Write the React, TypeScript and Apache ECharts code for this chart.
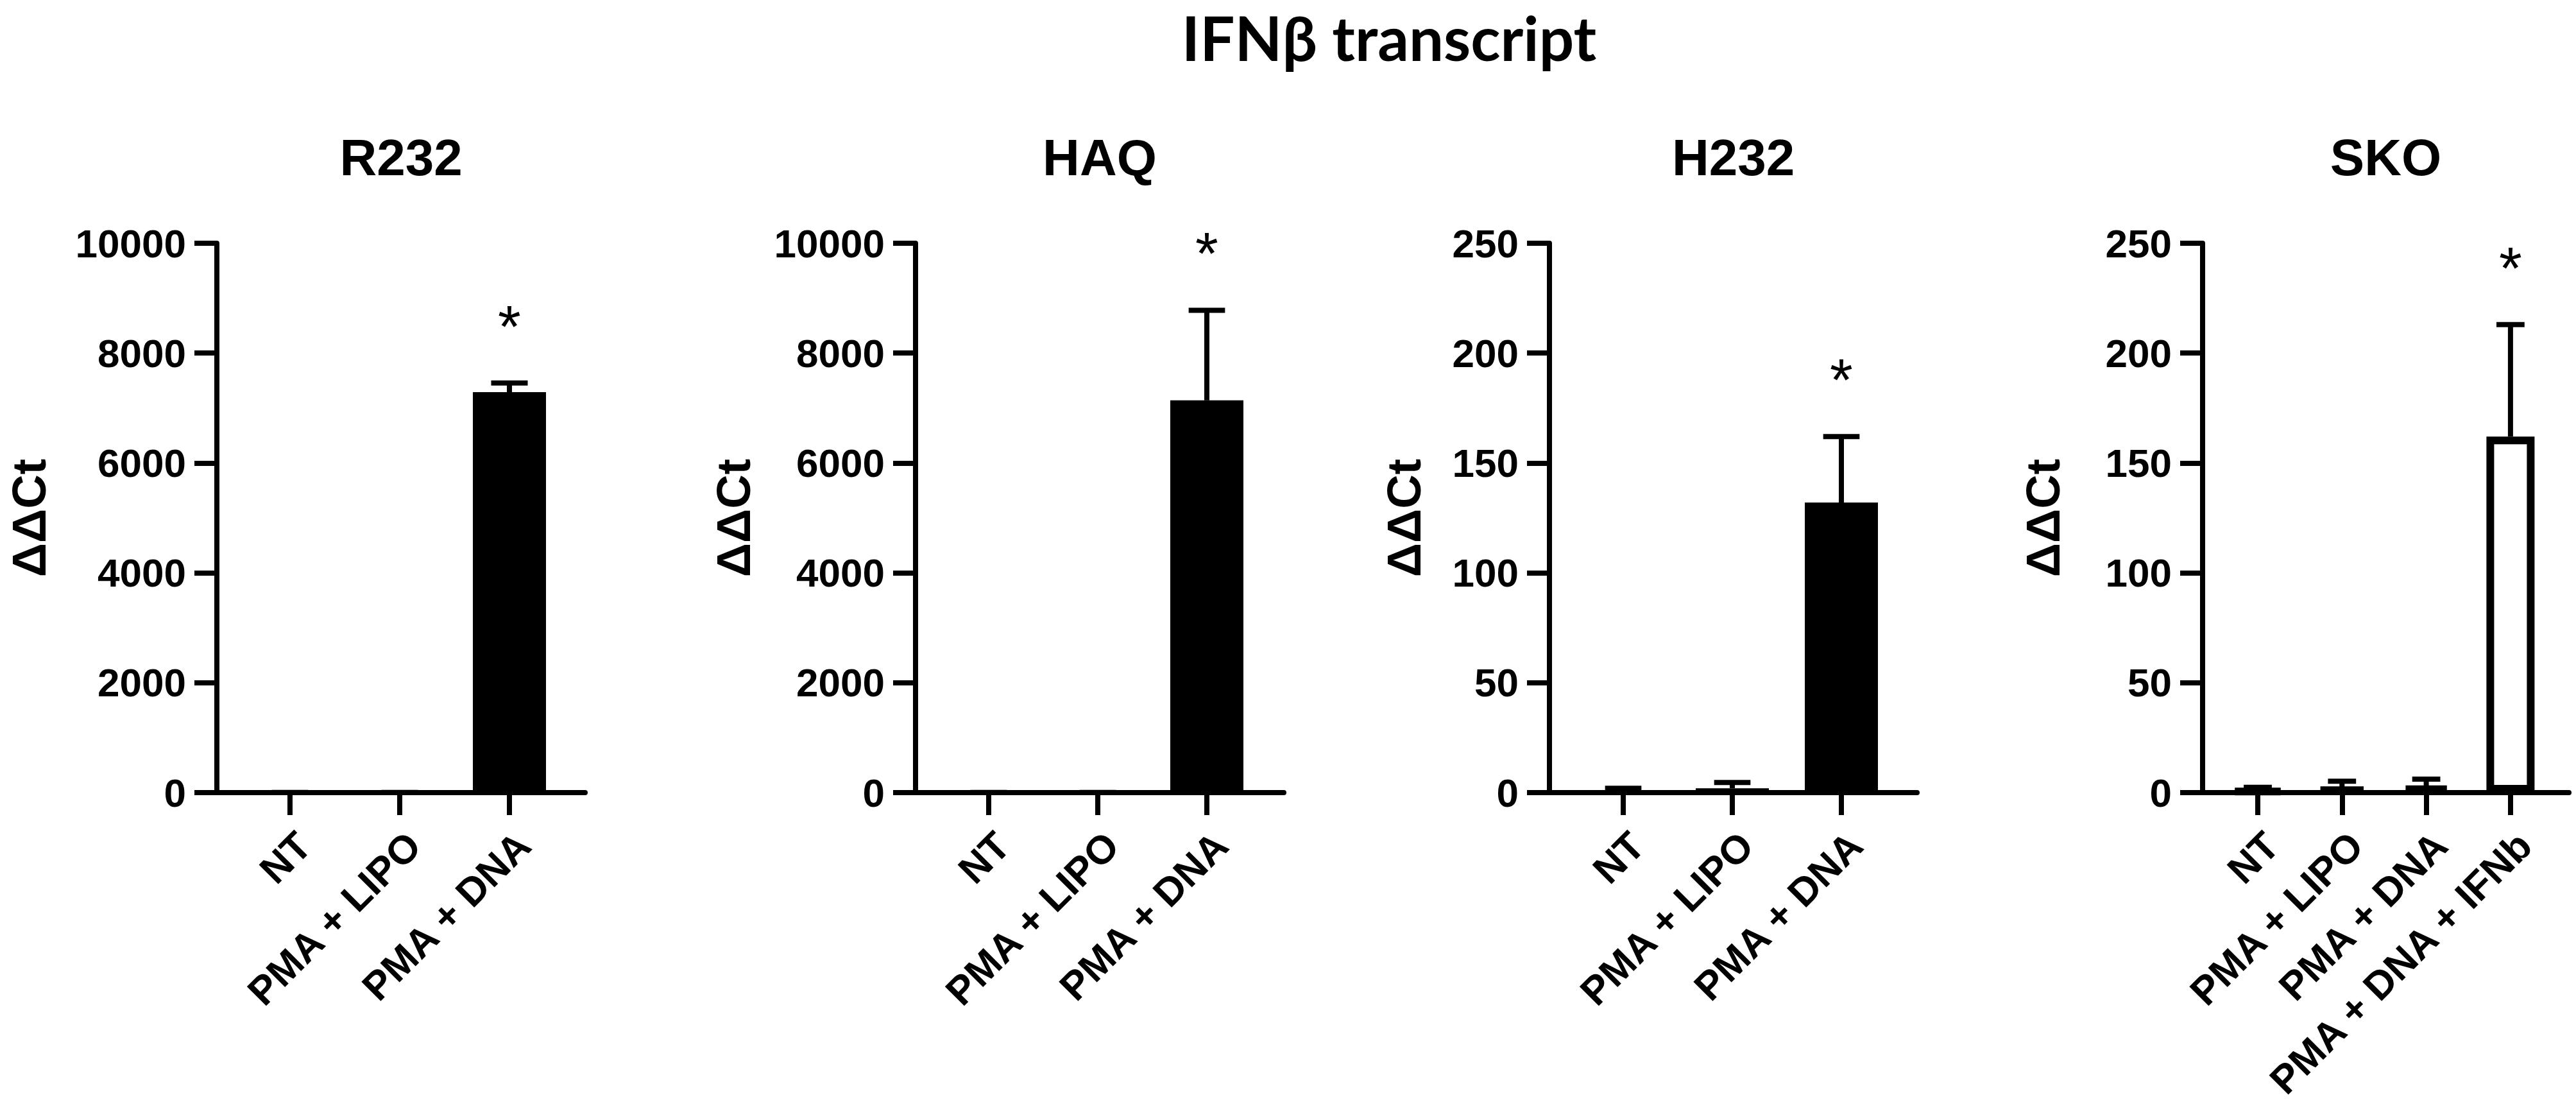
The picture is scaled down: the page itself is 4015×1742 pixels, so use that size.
import React, { useEffect, useRef } from 'react';
import * as echarts from 'echarts';

// ---------- data ----------
const mainTitle = 'IFNβ transcript';
const yName = 'ΔΔCt';

const categories3 = ['NT', 'PMA + LIPO', 'PMA + DNA'];
const categories4 = ['NT', 'PMA + LIPO', 'PMA + DNA', 'PMA + DNA + IFNb'];

const r232Mean = [1, 1, 7290];
const r232Sd = [0.5, 0.6, 165];
const r232Sig = [false, false, true];

const haqMean = [1, 1.5, 7140];
const haqSd = [0.5, 0.8, 1640];
const haqSig = [false, false, true];

const h232Mean = [1, 2, 132];
const h232Sd = [1, 2.6, 30];
const h232Sig = [false, false, true];

const skoMean = [1, 2.2, 3.1, 162];
const skoSd = [1.4, 3, 3, 51];
const skoSig = [false, false, false, true];

const yMaxBig = 10000;
const yStepBig = 2000;
const yMaxSmall = 250;
const yStepSmall = 50;

// ---------- layout / style ----------
const W = 4015;
const H = 1742;
const PLOT_TOP = 379;
const PLOT_H = 856;
const LW = 8;
const FONT = '"Liberation Sans", Arial, sans-serif';

const panels = [
  { title: 'R232', cats: categories3, mean: r232Mean, sd: r232Sd, sig: r232Sig, yMax: yMaxBig, yStep: yStepBig,
    axisX: 338, endX: 912, firstTick: 452, band: 171, nameGap: 256, fill: '#000', border: 0, barW: 114 },
  { title: 'HAQ', cats: categories3, mean: haqMean, sd: haqSd, sig: haqSig, yMax: yMaxBig, yStep: yStepBig,
    axisX: 1427, endX: 2001, firstTick: 1541, band: 170, nameGap: 247, fill: '#000', border: 0, barW: 114 },
  { title: 'H232', cats: categories3, mean: h232Mean, sd: h232Sd, sig: h232Sig, yMax: yMaxSmall, yStep: yStepSmall,
    axisX: 2415, endX: 2988, firstTick: 2530, band: 170, nameGap: 190, fill: '#000', border: 0, barW: 114 },
  { title: 'SKO', cats: categories4, mean: skoMean, sd: skoSd, sig: skoSig, yMax: yMaxSmall, yStep: yStepSmall,
    axisX: 3433, endX: 4004, firstTick: 3519, band: 131.3, nameGap: 212, fill: '#fff', border: 12, barW: 75 },
];

function buildOption() {
  const grid: any[] = [];
  const xAxis: any[] = [];
  const yAxis: any[] = [];
  const series: any[] = [];
  const graphic: any[] = [];

  graphic.push({
    type: 'text', x: 2165, y: 57,
    style: {
      text: mainTitle, font: 'bold 96px Lato, "Noto Sans", sans-serif', lineHeight: 96,
      fill: '#000', align: 'center', verticalAlign: 'middle',
    },
  });

  panels.forEach((p, i) => {
    const outer = 2 * i;
    const inner = 2 * i + 1;
    const n = p.cats.length;
    grid.push({ left: p.axisX, top: PLOT_TOP, width: p.endX - p.axisX, height: PLOT_H, outerBoundsMode: 'none', containLabel: false });
    grid.push({ left: p.firstTick - p.band / 2, top: PLOT_TOP, width: p.band * n, height: PLOT_H, outerBoundsMode: 'none', containLabel: false });

    xAxis.push({
      type: 'value', gridIndex: outer, min: 0, max: 1,
      axisLine: { show: true, lineStyle: { color: '#000', width: LW } },
      axisTick: { show: false }, axisLabel: { show: false }, splitLine: { show: false },
    });
    xAxis.push({
      type: 'category', gridIndex: inner, data: p.cats, boundaryGap: true,
      axisLine: { show: false },
      axisTick: { show: true, alignWithLabel: true, length: 35, lineStyle: { color: '#000', width: LW } },
      axisLabel: {
        interval: 0, rotate: 45, margin: 50, align: 'right', verticalAlign: 'top',
        fontFamily: FONT, fontWeight: 'bold', fontSize: 62, color: '#000',
      },
      splitLine: { show: false },
    });

    yAxis.push({
      type: 'value', gridIndex: outer, min: 0, max: p.yMax, interval: p.yStep,
      name: yName, nameLocation: 'middle', nameGap: p.nameGap,
      nameTextStyle: { fontFamily: FONT, fontWeight: 'bold', fontSize: 74, color: '#000' },
      axisLine: { show: true, lineStyle: { color: '#000', width: LW } },
      axisTick: { show: true, length: 35, lineStyle: { color: '#000', width: LW } },
      axisLabel: {
        margin: 48, fontFamily: FONT, fontWeight: 'bold', fontSize: 62, color: '#000',
        formatter: (v: number) => String(v),
      },
      splitLine: { show: false },
    });
    yAxis.push({ type: 'value', gridIndex: inner, min: 0, max: p.yMax, show: false, splitLine: { show: false } });

    series.push({
      type: 'bar', xAxisIndex: inner, yAxisIndex: inner, barWidth: p.barW,
      data: p.mean,
      itemStyle: { color: p.fill, borderColor: '#000', borderWidth: p.border },
      z: 3,
    });

    series.push({
      type: 'custom', xAxisIndex: inner, yAxisIndex: inner, z: 4,
      data: p.cats.map((c, k) => [k, p.mean[k], p.sd[k]]),
      encode: { x: 0, y: 1 },
      renderItem: (params: any, api: any) => {
        const idx = api.value(0);
        const m = api.value(1);
        const s = api.value(2);
        const b = api.coord([idx, m]);
        const t = api.coord([idx, m + s]);
        const band = api.size([1, 0])[0];
        const half = band / 6;
        return {
          type: 'group',
          children: [
            { type: 'line', shape: { x1: b[0], y1: b[1], x2: t[0], y2: t[1] }, style: { stroke: '#000', lineWidth: LW } },
            { type: 'line', shape: { x1: t[0] - half, y1: t[1], x2: t[0] + half, y2: t[1] }, style: { stroke: '#000', lineWidth: LW } },
          ],
        };
      },
    });

    series.push({
      type: 'custom', xAxisIndex: inner, yAxisIndex: inner, z: 5,
      data: p.cats.map((c, k) => [k, p.mean[k] + p.sd[k], p.sig[k] ? 1 : 0]),
      encode: { x: 0, y: 1 },
      renderItem: (params: any, api: any) => {
        if (!api.value(2)) return null;
        const pt = api.coord([api.value(0), api.value(1)]);
        return {
          type: 'text', x: pt[0], y: pt[1] - 88,
          style: { text: '*', font: `normal 92px ${FONT}`, fill: '#000', align: 'center', verticalAlign: 'middle' },
        };
      },
    });

    graphic.push({
      type: 'text', x: (p.axisX + p.endX) / 2, y: 245,
      style: { text: p.title, font: `bold 80px ${FONT}`, fill: '#000', align: 'center', verticalAlign: 'middle' },
    });
  });

  return {
    animation: false,
    backgroundColor: '#fff',
    grid, xAxis, yAxis, series, graphic,
  };
}

export default function App() {
  const ref = useRef<HTMLDivElement>(null);
  useEffect(() => {
    document.body.style.margin = '0';
    if (!ref.current) return;
    const chart = echarts.init(ref.current, undefined, { renderer: 'svg', width: W, height: H });
    chart.setOption(buildOption() as any);
    return () => chart.dispose();
  }, []);
  return <div ref={ref} style={{ width: W, height: H, background: '#fff' }} />;
}
